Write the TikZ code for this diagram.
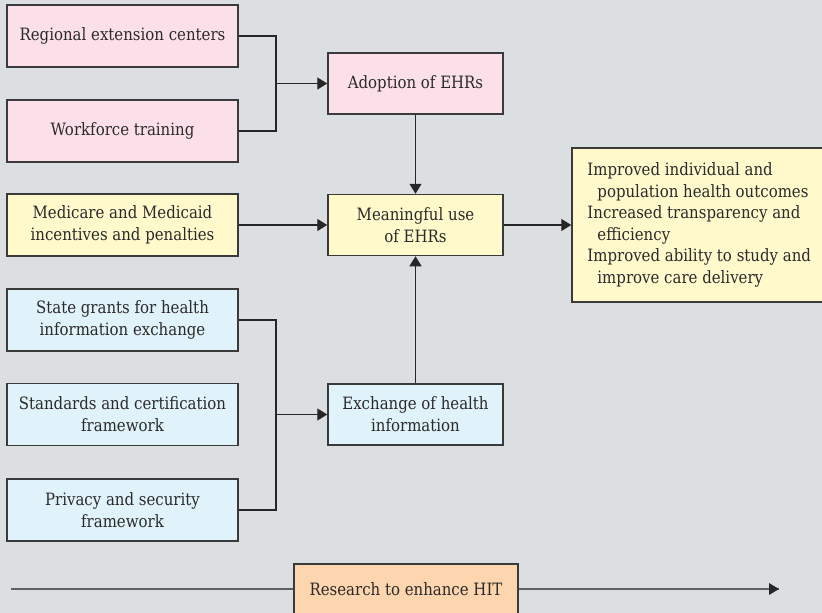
\documentclass[tikz,border=0pt]{standalone}
\usepackage{fontspec}
\setmainfont{DejaVu Serif}[FakeStretch=0.88]
\usetikzlibrary{arrows.meta}
\definecolor{bg}{HTML}{DCDFE2}
\definecolor{pinkf}{HTML}{FBE0EA}
\definecolor{yellowf}{HTML}{FFF9CC}
\definecolor{bluef}{HTML}{E0F2FA}
\definecolor{orangef}{HTML}{FDD5AE}
\definecolor{edge}{HTML}{3A3A3A}
\definecolor{txt}{HTML}{2A2A2A}
\definecolor{lin}{HTML}{262626}
\begin{document}
\begin{tikzpicture}[x=1pt,y=-1pt,
  box/.style={draw=edge, line width=1.5pt, align=center, text=txt, inner sep=0pt,
    font=\fontsize{17}{22}\selectfont},
  lbox/.style={box, minimum width=231pt, minimum height=62pt},
  cbox/.style={box, minimum width=175pt, minimum height=61pt},
  conn/.style={draw=lin, line width=1.4pt},
  arr/.style={conn, -{Triangle[length=10pt,width=12pt]}},
  ]
\fill[bg] (0,0) rectangle (822,613);
\clip (0,0) rectangle (822,613);
\useasboundingbox (0,0) rectangle (822,613);

\node[lbox, fill=pinkf] (rec) at (122.5,36) {Regional extension centers};
\node[lbox, fill=pinkf] (wft) at (122.5,131) {Workforce training};
\node[cbox, fill=pinkf] (adopt) at (415.5,83.5) {Adoption of EHRs};
\node[lbox, fill=yellowf] (med) at (122.5,225) {Medicare and Medicaid\\incentives and penalties};
\node[cbox, fill=yellowf] (mu) at (415.5,225) {Meaningful use\\of EHRs};
\node[box, fill=yellowf, minimum width=256pt, minimum height=154pt] (out) at (700,225) {};
\node[anchor=west, align=left, text=txt, inner sep=0pt, font=\fontsize{17}{21.5}\selectfont]
  (outtext) at ([xshift=16pt]out.west)
  {Improved individual and\\\hspace*{10pt}population health outcomes\\Increased transparency and\\\hspace*{10pt}efficiency\\Improved ability to study and\\\hspace*{10pt}improve care delivery};
\node[lbox, fill=bluef] (sg) at (122.5,320) {State grants for health\\information exchange};
\node[lbox, fill=bluef] (std) at (122.5,414.5) {Standards and certification\\framework};
\node[lbox, fill=bluef] (priv) at (122.5,510) {Privacy and security\\framework};
\node[cbox, fill=bluef] (exch) at (415.5,414.5) {Exchange of health\\information};
\node[box, fill=orangef, minimum width=224pt, minimum height=50pt] (res) at (406,589) {Research to enhance HIT};

\coordinate (j1) at (276,83.5);
\coordinate (j2) at (276,414.5);
\coordinate (bstart) at (11,589);
\coordinate (bend) at (779,589);

\draw[conn] (rec.east) -| (j1);
\draw[conn] (wft.east) -| (j1);
\draw[arr] (j1) -- (adopt.west);
\draw[arr] (adopt.south) -- (mu.north);
\draw[arr] (med.east) -- (mu.west);
\draw[arr] (mu.east) -- (out.west);
\draw[conn] (sg.east) -| (j2);
\draw[conn] (priv.east) -| (j2);
\draw[arr] (j2) -- (exch.west);
\draw[arr] (exch.north) -- (mu.south);
\draw[draw=gray!75!black, line width=2pt] (bstart) -- (res.west);
\draw[draw=gray!75!black, line width=2pt] (res.east) -- (bend);
\fill[lin] (bend) -- ++(-10,-6) -- ++(0,12) -- cycle;
\end{tikzpicture}
\end{document}
